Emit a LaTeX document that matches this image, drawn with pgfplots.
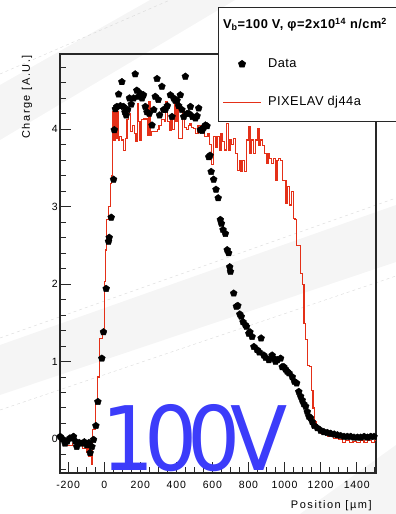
\documentclass[border=0pt]{standalone}
\usepackage{fontspec}
\setmainfont{Liberation Sans}[LetterSpace=8]
\newfontfamily\labfont{Liberation Sans}[LetterSpace=14]
\newfontfamily\legfont{Liberation Sans}[LetterSpace=4]
\newfontfamily\bigfont{DejaVu Sans}[LetterSpace=-12]
\usepackage{pgfplots}
\pgfplotsset{compat=1.18}
\definecolor{histred}{RGB}{228,48,24}
\definecolor{bigblue}{RGB}{60,60,250}
\definecolor{frame}{RGB}{40,40,40}
\pgfplotsset{
  linelegend/.style={legend image code/.code={
    \draw[##1] (0pt,0pt) -- (38pt,0pt);
    \path[draw=none,fill=none] (0pt,0pt) -- (45pt,0pt);}},
  marklegend/.style={legend image code/.code={
    \path[draw=none,fill=none] (0pt,0pt) -- (45pt,0pt);
    \draw[##1] plot coordinates {(19pt,0pt)};}},
}

\pgfplotstableread{
x y
-244 0.03
-232 0.00
-217 -0.06
-205 -0.03
-190 0.01
-170 0.03
-160 -0.03
-152 -0.10
-138 -0.05
-124 -0.06
-110 -0.04
-96 -0.08
-85 -0.05
-78 -0.18
-68 -0.10
-59 -0.01
-46 0.17
-35 0.48
-13 1.04
-4 1.38
11 1.94
24 2.55
28 2.60
39 2.86
52 3.35
56 3.99
62 4.26
70 4.29
80 4.45
90 4.30
98 4.61
107 4.29
115 4.22
122 4.18
130 4.25
140 4.40
150 4.32
163 4.40
172 4.71
181 4.50
190 4.42
200 4.46
210 4.40
218 4.44
228 4.29
237 4.22
250 4.20
265 4.05
275 4.25
283 4.42
293 4.65
300 4.38
307 4.18
320 4.55
329 4.25
339 4.25
350 4.30
367 4.44
376 4.16
385 4.40
394 4.37
404 4.37
413 4.30
422 4.44
431 4.25
441 4.16
450 4.68
460 4.20
470 4.20
478 4.29
490 4.16
506 4.14
515 4.17
524 4.27
533 3.99
543 3.98
552 4.02
561 4.05
570 4.04
580 3.64
587 3.66
593 3.45
607 3.35
620 3.22
632 3.11
644 2.83
650 2.78
659 2.70
672 2.65
682 2.44
690 2.40
696 2.22
700 2.16
718 1.88
733 1.71
741 1.72
752 1.61
760 1.58
770 1.51
783 1.47
789 1.45
802 1.36
808 1.38
820 1.32
830 1.19
848 1.15
860 1.12
870 1.30
885 1.08
895 1.05
913 1.02
931 1.08
940 1.04
950 1.00
960 1.02
978 1.04
987 0.93
996 0.93
1005 0.90
1015 0.87
1025 0.85
1043 0.80
1055 0.74
1067 0.72
1079 0.61
1089 0.55
1098 0.50
1107 0.45
1117 0.42
1126 0.35
1135 0.29
1144 0.27
1154 0.22
1165 0.17
1182 0.14
1200 0.11
1218 0.09
1237 0.08
1256 0.07
1275 0.06
1293 0.05
1311 0.04
1330 0.03
1348 0.03
1367 0.03
1385 0.02
1404 0.02
1422 0.02
1441 0.03
1460 0.02
1478 0.03
1496 0.03
}\datatab

\pgfplotstableread{
x y
-250 -0.03
-210 -0.09
-175 -0.06
-150 -0.09
-120 -0.12
-100 -0.18
-92 -0.08
-84 -0.22
-76 -0.15
-68 -0.33
-63 0.12
-50 0.47
-38 0.80
-27 1.30
-10 1.41
2 2.03
8 2.44
14 2.83
22 3.00
34 3.30
42 3.40
48 4.22
54 3.86
60 4.25
66 3.88
72 4.22
78 3.86
86 3.90
95 3.86
108 3.72
118 3.88
126 4.12
134 4.20
146 3.97
156 4.05
166 3.94
176 3.84
184 4.33
190 4.10
198 3.86
206 4.12
216 4.13
232 4.13
240 3.92
248 4.35
256 3.92
264 3.97
280 3.97
294 4.00
304 4.05
318 4.12
334 4.10
342 4.35
350 4.10
360 3.98
370 4.12
380 3.99
390 4.35
398 4.10
408 4.29
414 3.88
422 3.88
434 4.27
446 4.02
456 3.99
466 4.05
476 4.07
486 4.02
496 4.01
508 3.94
520 4.05
532 4.05
544 3.97
556 3.90
566 3.90
576 3.94
586 3.80
596 3.54
606 3.90
616 3.77
626 3.90
638 3.73
648 3.94
658 3.84
668 3.73
678 4.07
688 3.73
698 3.86
708 3.80
718 3.88
728 3.69
738 3.47
748 3.60
758 3.45
768 3.60
778 3.45
788 3.86
798 4.03
808 3.69
818 3.86
828 3.69
838 3.86
848 4.01
858 3.79
868 3.86
878 3.79
888 3.69
898 3.56
908 3.69
918 3.62
928 3.56
938 3.62
948 3.34
958 3.60
968 3.62
978 3.60
988 3.34
998 3.34
1008 3.04
1018 3.26
1028 3.02
1038 3.19
1048 2.85
1058 2.83
1068 2.50
1078 2.50
1088 2.14
1098 1.99
1108 1.49
1118 1.28
1128 0.95
1138 0.93
1148 0.63
1158 0.40
1166 0.22
1174 0.14
1186 0.12
1200 0.07
1240 0.03
1270 0.01
1300 -0.01
1320 -0.05
1340 -0.02
1360 -0.05
1380 -0.03
1400 -0.05
1420 -0.02
1440 -0.05
1460 -0.02
1480 -0.05
1500 -0.02
1507 -0.02
}\histtab

\begin{document}
\begin{tikzpicture}[x=1pt,y=1pt]
\useasboundingbox (0,0) rectangle (396,514);
% faint background swooshes
\fill[black!4] (0,429) -- (150,514) -- (235,514) -- (0,374) -- cycle;
\fill[black!4] (0,169) -- (396,309) -- (396,252) -- (0,119) -- cycle;
\fill[black!4] (300,0) -- (396,69) -- (396,0) -- cycle;
\draw[black!15, dashed, line width=0.4pt] (0,176) -- (396,316);
\draw[black!15, dashed, line width=0.4pt] (0,104) -- (396,238);
\draw[black!15, dashed, line width=0.4pt] (0,440) -- (170,514);

\begin{axis}[
  at={(60pt,41pt)}, anchor=south west,
  scale only axis, width=316pt, height=419pt,
  xmin=-245, xmax=1507, ymin=-0.44, ymax=4.97,
  axis line style={draw=frame, line width=1.1pt},
  tick align=inside, xtick pos=bottom, ytick pos=left,
  xtick={-400,-200,...,1600}, ytick={-1,0,...,5},
  minor x tick num=3, minor y tick num=4,
  major tick length=11pt, minor tick length=5.5pt,
  tick style={draw=frame, line width=0.9pt},
  /pgf/number format/assume math mode=true,
  /pgf/number format/1000 sep={},
  tick label style={font=\fontsize{10.5}{12}\selectfont},
  xticklabel style={yshift=-5pt, inner xsep=0pt},
  yticklabel style={inner sep=2pt},
  xlabel={Position [µm]}, ylabel={Charge [A.U.]},
  label style={font=\labfont\fontsize{11}{13}\selectfont, inner sep=0pt},
  xlabel style={at={(axis description cs:0.987,0)}, anchor=north east, yshift=-27pt},
  ylabel style={at={(axis description cs:-0.1044,0.9976)}, anchor=east},
  linelegend,
  legend style={at={(axis description cs:0.5,1.113)}, anchor=north west,
    draw=frame, line width=0.9pt, fill=white,
    font=\legfont\fontsize{12.8}{14}\selectfont,
    inner xsep=4pt, inner ysep=12.5pt, row sep=26.5pt,
    nodes={inner sep=0pt, text height=9pt, text depth=3pt}},
  legend cell align=left,
]
\addplot[const plot, histred, line width=1.2pt, forget plot] table[x=x,y=y] {\histtab};
\addlegendimage{empty legend}
\addlegendentry{\hspace*{-45pt}\bfseries V\textsubscript{b}=100 V, φ=2x10\textsuperscript{14} n/cm\textsuperscript{2}\hspace*{12pt}}
\addplot[only marks, mark=pentagon*, mark size=3.6pt, black, marklegend] table[x=x,y=y] {\datatab};
\addlegendentry{Data}
\addlegendimage{histred, line width=1.2pt, linelegend}
\addlegendentry{PIXELAV dj44a}
\end{axis}

\node[anchor=base west, inner sep=0pt, text=bigblue, xscale=0.94] at (101,43) {\bigfont\fontsize{89}{89}\selectfont 100V};
\end{tikzpicture}
\end{document}
